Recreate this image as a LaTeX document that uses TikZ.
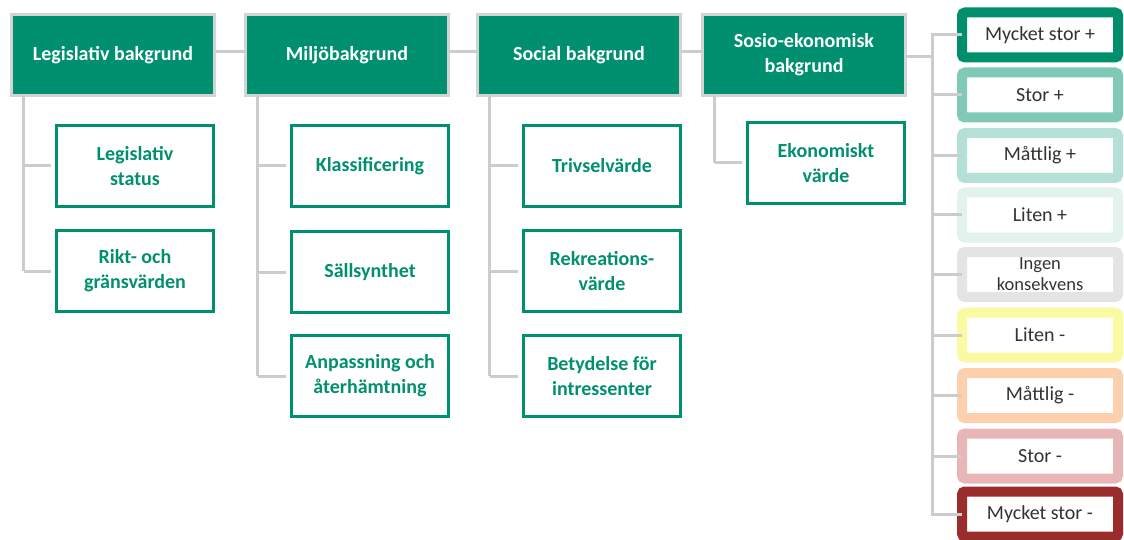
\documentclass[tikz,border=0pt]{standalone}
\usepackage{fontspec}
\setmainfont{Carlito}
\definecolor{dgreen}{HTML}{00906F}
\definecolor{hborder}{HTML}{D4D4D4}
\definecolor{conn}{HTML}{CCCCCC}
\definecolor{ltext}{HTML}{333333}
\definecolor{cA}{HTML}{008F6D}
\definecolor{cB}{HTML}{80C9B7}
\definecolor{cC}{HTML}{B5E0D5}
\definecolor{cD}{HTML}{E2F3EE}
\definecolor{cE}{HTML}{E4E4E4}
\definecolor{cF}{HTML}{FAFAA2}
\definecolor{cG}{HTML}{FCD0AC}
\definecolor{cH}{HTML}{E8B6B6}
\definecolor{cI}{HTML}{9A2C2C}
\tikzset{
  header/.style={draw=hborder, line width=3pt, fill=dgreen, text=white,
    font=\fontsize{20}{25}\selectfont\bfseries, align=center,
    minimum width=203pt, minimum height=81pt, inner sep=0pt, outer sep=0pt},
  child/.style={draw=dgreen, line width=3pt, fill=white, text=dgreen,
    font=\fontsize{20}{25}\selectfont\bfseries, align=center,
    minimum width=157pt, minimum height=81pt, inner sep=0pt, outer sep=0pt},
  legend/.style={line width=10pt, fill=white, text=ltext, rounded corners=3pt,
    font=\fontsize{20}{25}\selectfont, align=center,
    minimum width=156pt, minimum height=45pt, inner sep=0pt, outer sep=0pt},
  link/.style={draw=conn, line width=3pt}
}
\begin{document}
\begin{tikzpicture}[x=1pt,y=-1pt]
\useasboundingbox (0,0) rectangle (1124,540);
% headers
\node[header] (h1) at (113,55) {Legislativ bakgrund};
\node[header] (h2) at (347,55) {Miljöbakgrund};
\node[header] (h3) at (579,55) {Social bakgrund};
\node[header] (h4) at (804,55) {Sosio-ekonomisk\\bakgrund};
% children
\node[child] (c11) at (135,166) {Legislativ\\status};
\node[child] (c12) at (135,271) {Rikt- och\\gränsvärden};
\node[child] (c21) at (370,166) {Klassificering};
\node[child] (c22) at (370,272) {Sällsynthet};
\node[child] (c23) at (370,376) {Anpassning och\\återhämtning};
\node[child] (c31) at (602,166) {Trivselvärde};
\node[child] (c32) at (602,271) {Rekreations-\\värde};
\node[child] (c33) at (602,376) {Betydelse för\\intressenter};
\node[child] (c41) at (826,163) {Ekonomiskt\\värde};
% legend
\node[legend, draw=cA] (l1) at (1040,35) {Mycket stor +};
\node[legend, draw=cB] (l2) at (1040,95) {Stor +};
\node[legend, draw=cC] (l3) at (1040,155.5) {Måttlig +};
\node[legend, draw=cD] (l4) at (1040,215) {Liten +};
\node[legend, draw=cE, font=\fontsize{18.5}{21}\selectfont] (l5) at (1040,274.5) {Ingen\\konsekvens};
\node[legend, draw=cF] (l6) at (1040,335) {Liten -};
\node[legend, draw=cG] (l7) at (1040,395.5) {Måttlig -};
\node[legend, draw=cH] (l8) at (1040,456) {Stor -};
\node[legend, draw=cI] (l9) at (1040,514) {Mycket stor -};
% header links
\draw[link] ([yshift=3pt]h1.east) -- ([yshift=3pt]h2.west);
\draw[link] ([yshift=3pt]h2.east) -- ([yshift=3pt]h3.west);
\draw[link] ([yshift=3pt]h3.east) -- ([yshift=3pt]h4.west);
% child trees
\foreach \h/\last/\list in {h1/c12/{c11,c12}, h2/c23/{c21,c22,c23}, h3/c33/{c31,c32,c33}, h4/c41/{c41}}{
  \coordinate (v) at ([xshift=12pt]\h.south west);
  \draw[link] (v) -- (v |- \last.west);
  \foreach \c in \list {
    \draw[link] (v |- \c.west) -- ([xshift=-6pt]\c.west);
  }
}
% legend bus
\coordinate (bus) at (932,0);
\draw[link] ([yshift=-2pt]h4.east) -- ([yshift=-2pt]h4.east -| bus);
\draw[link, line cap=rect] (l1.west -| bus) -- (l9.west -| bus);
\foreach \l in {l1,l2,l3,l4,l5,l6,l7,l8,l9}{
  \draw[link] (\l.west -| bus) -- (\l.west);
}
\end{tikzpicture}
\end{document}
